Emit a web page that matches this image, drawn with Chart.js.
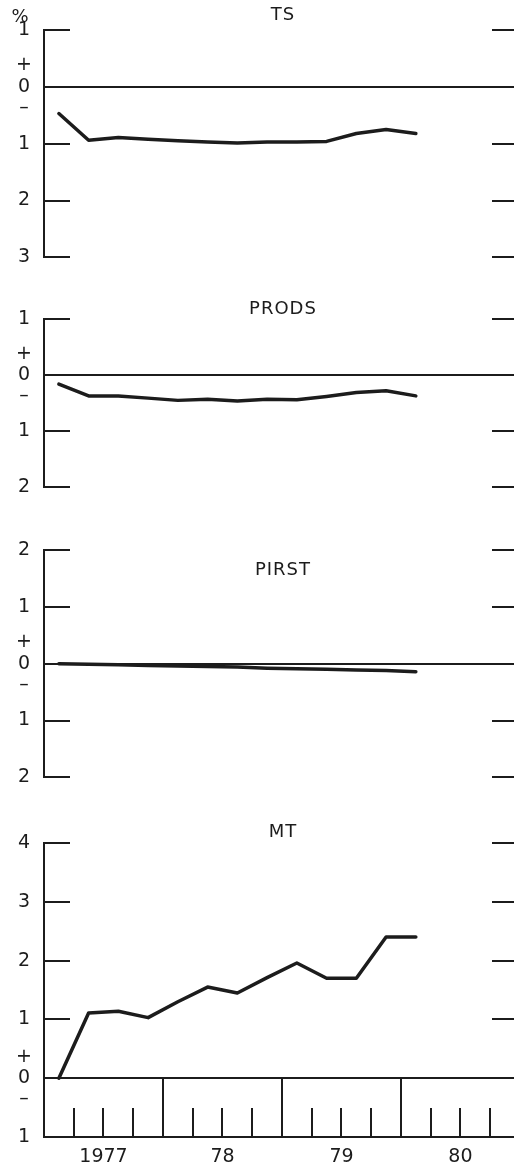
<!DOCTYPE html>
<html>
<head>
<meta charset="utf-8">
<script src="https://cdn.jsdelivr.net/npm/chart.js@4.4.1/dist/chart.umd.min.js"></script>
<style>
  html, body { margin: 0; padding: 0; background: #fff; overflow: hidden; }
  canvas { position: absolute; left: 0; display: block; }
</style>
</head>
<body>
<canvas id="ts" width="514" height="280" style="top:0px"></canvas>
<canvas id="prods" width="514" height="220" style="top:290px"></canvas>
<canvas id="pirst" width="514" height="285" style="top:515px"></canvas>
<canvas id="mt" width="514" height="361" style="top:805px"></canvas>
<script>
// quarterly observations, 1977 I .. 1980 I
const quarters = ['1977 Q1', '1977 Q2', '1977 Q3', '1977 Q4',
                  '1978 Q1', '1978 Q2', '1978 Q3', '1978 Q4',
                  '1979 Q1', '1979 Q2', '1979 Q3', '1979 Q4',
                  '1980 Q1'];

const tsValues    = [-0.47, -0.94, -0.89, -0.92, -0.95, -0.97, -0.99, -0.97, -0.97, -0.96, -0.82, -0.75, -0.82];
const prodsValues = [-0.16, -0.37, -0.37, -0.41, -0.45, -0.43, -0.46, -0.43, -0.44, -0.38, -0.31, -0.28, -0.37];
const pirstValues = [0, -0.01, -0.02, -0.03, -0.04, -0.05, -0.06, -0.08, -0.09, -0.10, -0.11, -0.12, -0.14];
const mtValues    = [0, 1.11, 1.14, 1.03, 1.30, 1.55, 1.45, 1.71, 1.96, 1.70, 1.70, 2.40, 2.40];

const tsTicks    = [1, 0, -1, -2, -3];
const prodsTicks = [1, 0, -1, -2];
const pirstTicks = [2, 1, 0, -1, -2];
const mtTicks    = [4, 3, 2, 1, 0, -1];

const yearLabels = ['1977', '78', '79', '80'];
const firstYear = 1977;

const INK = '#1c1c1c';
const FONT = 'DejaVu Sans';

// '1978 Q2' -> middle of that quarter as a decimal year
function quarterTime(q) {
  const [y, n] = q.split(' Q');
  return +y + (+n - 0.5) / 4;
}

function line(ctx, x1, y1, x2, y2) {
  ctx.beginPath();
  ctx.moveTo(x1, y1);
  ctx.lineTo(x2, y2);
  ctx.stroke();
}

// inward tick marks, panel name, and the time axis dividers
const panelDecor = {
  id: 'panelDecor',
  afterDatasetsDraw(chart, args, opts) {
    const {ctx, chartArea: a, scales: {x, y}} = chart;
    ctx.save();
    ctx.strokeStyle = INK;
    ctx.lineWidth = 2;
    y.ticks.forEach(t => {
      if (t.value === 0) return;
      const py = Math.round(y.getPixelForValue(t.value));
      line(ctx, a.left, py, a.left + 26, py);
      line(ctx, a.right - 22, py, a.right, py);
    });

    if (opts.timeAxis) {
      const y0 = y.getPixelForValue(0);
      yearLabels.forEach((_, i) => {
        const yr = firstYear + i;
        if (i > 0) {
          const px = Math.round(x.getPixelForValue(yr));
          line(ctx, px, y0, px, a.bottom);
        }
        for (let q = 1; q < 4; q++) {
          const px = Math.round(x.getPixelForValue(yr + q / 4));
          line(ctx, px, a.bottom - 29, px, a.bottom);
        }
      });
    }

    ctx.fillStyle = INK;
    ctx.textAlign = 'center';
    ctx.textBaseline = 'middle';
    ctx.font = '18px "' + FONT + '"';
    ctx.letterSpacing = '1px';
    ctx.fillText(opts.title, (a.left + a.right) / 2 + 4, opts.titleTop);
    if (opts.unit) {
      ctx.letterSpacing = '0px';
      ctx.fillText(opts.unit, 20, opts.unitTop);
    }
    ctx.restore();
  }
};

function makePanel(id, values, yTicks, cfg) {
  const last = !!cfg.timeAxis;
  return new Chart(document.getElementById(id), {
    type: 'line',
    data: {
      datasets: [{
        data: quarters.map((q, i) => ({x: quarterTime(q), y: values[i]})),
        borderColor: INK,
        borderWidth: 3.5,
        pointRadius: 0,
        tension: 0,
        borderJoinStyle: 'round',
        borderCapStyle: 'round'
      }]
    },
    options: {
      responsive: false,
      animation: false,
      events: [],
      layout: {padding: {top: cfg.padTop, bottom: cfg.padBottom, left: 0, right: 0}},
      plugins: {
        legend: {display: false},
        tooltip: {enabled: false},
        panelDecor: {title: cfg.title, titleTop: cfg.titleTop, unit: cfg.unit, unitTop: cfg.unitTop, timeAxis: last}
      },
      scales: {
        x: {
          type: 'linear',
          min: firstYear,
          max: firstYear + 3.95,
          display: last,
          afterBuildTicks: s => { s.ticks = yearLabels.map((_, i) => ({value: firstYear + i + 0.5})); },
          afterFit: s => { if (last) s.height = 29; },
          grid: {display: false},
          border: {display: true, color: INK, width: 2},
          ticks: {
            color: INK,
            font: {family: FONT, size: 19},
            padding: 1,
            maxRotation: 0,
            autoSkip: false,
            callback: (v, i) => yearLabels[i]
          }
        },
        y: {
          min: Math.min(...yTicks),
          max: Math.max(...yTicks),
          afterBuildTicks: s => { s.ticks = yTicks.map(v => ({value: v})); },
          afterFit: s => { s.width = 44; },
          border: {display: true, color: INK, width: 2},
          grid: {
            drawTicks: false,
            lineWidth: 2,
            color: c => (c.tick && c.tick.value === 0) ? INK : 'rgba(0,0,0,0)'
          },
          ticks: {
            color: INK,
            font: {family: FONT, size: 19, lineHeight: 1.12},
            padding: 12,
            crossAlign: 'center',
            autoSkip: false,
            callback: v => v === 0 ? ['+', '0', '\u2013'] : String(Math.abs(v))
          }
        }
      }
    },
    plugins: [panelDecor]
  });
}

makePanel('ts', tsValues, tsTicks, {title: 'TS', titleTop: 15, unit: '%', unitTop: 17, padTop: 30, padBottom: 20});
makePanel('prods', prodsValues, prodsTicks, {title: 'PRODS', titleTop: 19, padTop: 29, padBottom: 18});
makePanel('pirst', pirstValues, pirstTicks, {title: 'PIRST', titleTop: 55, padTop: 35, padBottom: 17});
makePanel('mt', mtValues, mtTicks, {title: 'MT', titleTop: 27, padTop: 38, padBottom: 0, timeAxis: true});
</script>
</body>
</html>
